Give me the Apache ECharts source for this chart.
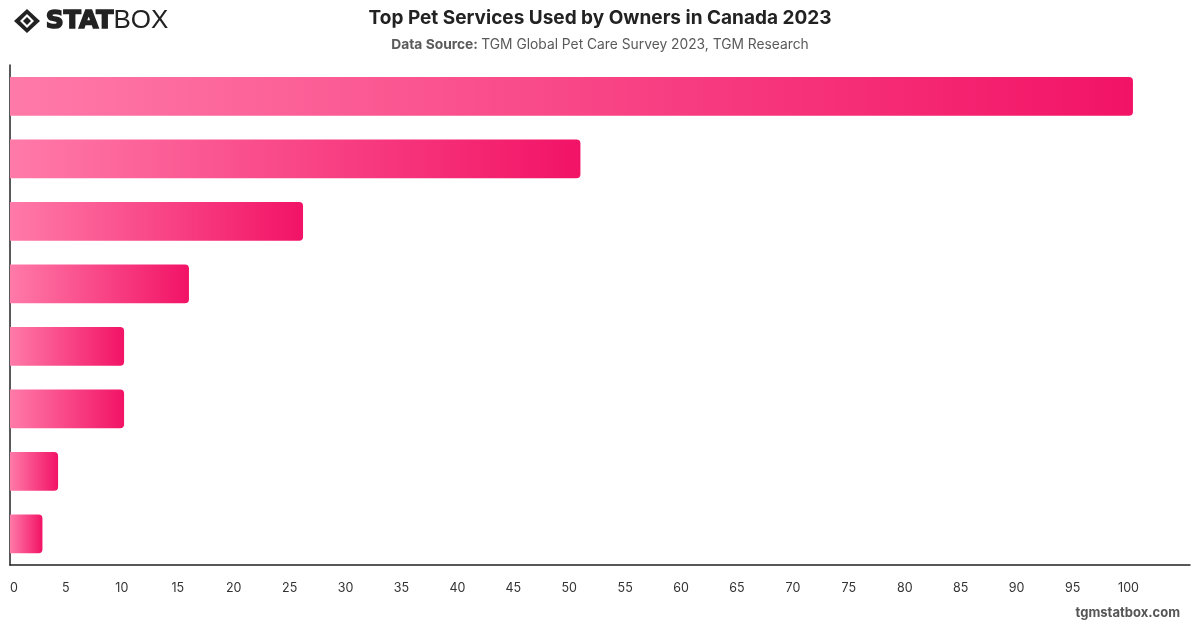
<!DOCTYPE html>
<html>
<head>
<meta charset="utf-8">
<script src="https://cdn.jsdelivr.net/npm/echarts@6/dist/echarts.min.js"></script>
<style>
html,body{margin:0;padding:0;background:#fff;}
#chart{width:1200px;height:628px;}
</style>
</head>
<body>
<div id="chart"></div>
<script>
var categories = ['Service 1','Service 2','Service 3','Service 4','Service 5','Service 6','Service 7','Service 8'];
var values = [100.4, 51, 26.2, 16, 10.2, 10.2, 4.3, 2.9];
var xTickMax = 100;

var chart = echarts.init(document.getElementById('chart'), null, {renderer:'canvas'});
var font = 'Inter, "Noto Sans", sans-serif';
chart.setOption({
  animation:false,
  backgroundColor:'#fff',
  title:{
    text:'Top Pet Services Used by Owners in Canada 2023',
    left:'center', top:4,
    textStyle:{fontFamily:font, fontSize:19, fontWeight:'bold', color:'#222'}
  },
  graphic:[
    {type:'text', left:'center', top:38, style:{
      rich:{b:{fontFamily:font,fontSize:13.8,fontWeight:'bold',fill:'#5a5a5a'}, n:{fontFamily:font,fontSize:13.8,fill:'#5a5a5a'}},
      text:'{b|Data Source:} {n|TGM Global Pet Care Survey 2023, TGM Research}'
    }},
    {type:'polygon', shape:{points:[[27,9],[40,21],[27,33],[14,21]]}, style:{fill:'#222'}},
    {type:'polygon', shape:{points:[[27,14],[34,21],[27,28],[20,21]]}, style:{fill:'#fff'}},
    {type:'polygon', shape:{points:[[27,17],[31,21],[27,25],[23,21]]}, style:{fill:'#222'}},
    {type:'text', left:45, top:8, style:{
      rich:{a:{fontFamily:'"DejaVu Sans", sans-serif',fontSize:25,fontWeight:900,fill:'#222',stroke:'#222',lineWidth:1.6},
            c:{fontFamily:'"Liberation Sans", sans-serif',fontSize:26,fontWeight:'normal',fill:'#222'}},
      text:'{a|STAT}{c|BOX}'
    }},
    {type:'text', right:20, top:607, style:{text:'tgmstatbox.com', fontFamily:font, fontSize:13, fontWeight:'bold', fill:'#555'}}
  ],
  grid:{left:10, right:10, top:65, bottom:63, containLabel:false},
  xAxis:{
    type:'value', min:0, max:105.5, interval:5,
    axisLine:{show:true, lineStyle:{color:'#222', width:1.5}},
    axisTick:{show:false},
    splitLine:{show:false},
    axisLabel:{
      margin:17, color:'#333', fontFamily:font, fontSize:12.5,
      alignMinLabel:'left',
      formatter:function(v){ return v > xTickMax ? '' : String(v); }
    }
  },
  yAxis:{
    type:'category', data:categories, inverse:true,
    axisLine:{show:true, lineStyle:{color:'#222', width:1.5}},
    axisTick:{show:false},
    axisLabel:{show:false},
    splitLine:{show:false}
  },
  series:[{
    type:'bar', data:values, barWidth:'62%',
    itemStyle:{
      borderRadius:[0,4,4,0],
      color:new echarts.graphic.LinearGradient(0,0,1,0,[{offset:0,color:'#ff7aa8'},{offset:1,color:'#f21366'}])
    }
  }]
});
</script>
</body>
</html>
